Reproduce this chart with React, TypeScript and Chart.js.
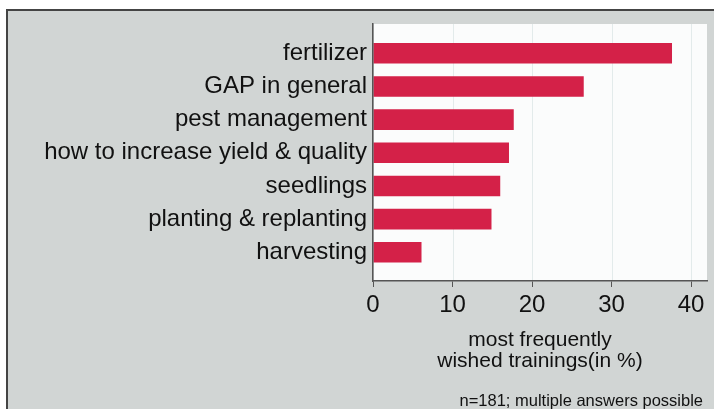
import React, { useEffect, useRef } from "react";
import { Chart, registerables } from "chart.js";

Chart.register(...registerables);

const categories = [
  "fertilizer",
  "GAP in general",
  "pest management",
  "how to increase yield & quality",
  "seedlings",
  "planting & replanting",
  "harvesting",
];
const shares = [37.6, 26.5, 17.7, 17.1, 16.0, 14.9, 6.1];
const xTickValues = [0, 10, 20, 30, 40];
const xTitle = ["most frequently", "wished trainings(in %)"];
const footnote = "n=181; multiple answers possible";

const FONT = "'Liberation Sans', Arial, Helvetica, sans-serif";

export default function App() {
  const ref = useRef<HTMLCanvasElement | null>(null);

  useEffect(() => {
    if (!ref.current) return;
    const framePlugin = {
      id: "frame",
      beforeDraw(chart: any) {
        const ctx = chart.ctx;
        const w = chart.width;
        const h = chart.height;
        ctx.save();
        ctx.fillStyle = "#d1d5d4";
        ctx.fillRect(6, 9, w - 6, h - 9);
        ctx.restore();
      },
      beforeDatasetsDraw(chart: any) {
        const ctx = chart.ctx;
        const a = chart.chartArea;
        const xs = chart.scales.x;
        ctx.save();
        ctx.fillStyle = "#fbfcfc";
        ctx.fillRect(a.left + 1, a.top, a.right - a.left - 1, a.bottom - a.top - 1);
        ctx.strokeStyle = "#e3ebeb";
        ctx.lineWidth = 1;
        xs.ticks.forEach((t: any) => {
          if (t.value === 0) return;
          const px = Math.round(xs.getPixelForValue(t.value)) + 0.5;
          ctx.beginPath();
          ctx.moveTo(px, a.top);
          ctx.lineTo(px, a.bottom - 1);
          ctx.stroke();
        });
        ctx.restore();
      },
      afterDraw(chart: any) {
        const ctx = chart.ctx;
        ctx.save();
        ctx.strokeStyle = "#444444";
        ctx.lineWidth = 2;
        ctx.beginPath();
        ctx.moveTo(chart.width, 10);
        ctx.lineTo(7, 10);
        ctx.lineTo(7, chart.height);
        ctx.stroke();
        ctx.fillStyle = "#111111";
        ctx.font = `16.5px ${FONT}`;
        ctx.textAlign = "right";
        ctx.textBaseline = "middle";
        ctx.fillText(footnote, 703, 401);
        ctx.restore();
      },
    };

    const chart = new Chart(ref.current, {
      type: "bar",
      data: {
        datasets: [
          {
            data: shares.map((v, i) => ({ x: v, y: i })),
            backgroundColor: "#d42148",
            borderWidth: 0,
            barPercentage: 0.62,
            categoryPercentage: 1,
          },
        ],
      },
      options: {
        indexAxis: "y",
        responsive: false,
        animation: false,
        devicePixelRatio: 1,
        layout: { padding: { left: 0, right: 7, top: 24, bottom: 0 } },
        plugins: {
          legend: { display: false },
          tooltip: { enabled: false },
          title: { display: false },
        },
        scales: {
          y: {
            type: "linear",
            reverse: true,
            offset: false,
            bounds: "data",
            grace: 0,
            min: -0.885,
            max: 6.867,
            afterFit(scale: any) {
              scale.width = 373;
            },
            afterBuildTicks(scale: any) {
              scale.ticks = categories.map((_, i) => ({ value: i }));
            },
            grid: { display: false, drawTicks: false, offset: false },
            border: { display: true, color: "#555555", width: 1.5, z: 1 },
            ticks: {
              autoSkip: false,
              padding: 6,
              color: "#111111",
              font: { family: FONT, size: 24 },
              callback: (v: any) => categories[v as number],
            },
          },
          x: {
            type: "linear",
            min: 0,
            max: 42,
            afterFit(scale: any) {
              scale.height = 128;
            },
            afterBuildTicks(scale: any) {
              scale.ticks = xTickValues.map((v) => ({ value: v }));
            },
            grid: {
              display: true,
              drawOnChartArea: false,
              drawTicks: true,
              tickLength: 6,
              tickColor: "#555555",
            },
            border: { display: true, color: "#555555", width: 1.5, z: 1 },
            ticks: {
              padding: 4,
              color: "#111111",
              maxRotation: 0,
              font: { family: FONT, size: 24 },
            },
            title: {
              display: true,
              text: xTitle,
              color: "#111111",
              font: { family: FONT, size: 21, lineHeight: 1 },
              padding: { top: 0, bottom: 37.5 },
            },
          },
        },
      },
      plugins: [framePlugin],
    });
    return () => chart.destroy();
  }, []);

  return (
    <div style={{ position: "fixed", left: 0, top: 0, width: 714, height: 409, background: "#ffffff" }}>
      <canvas ref={ref} width={714} height={409} />
    </div>
  );
}
